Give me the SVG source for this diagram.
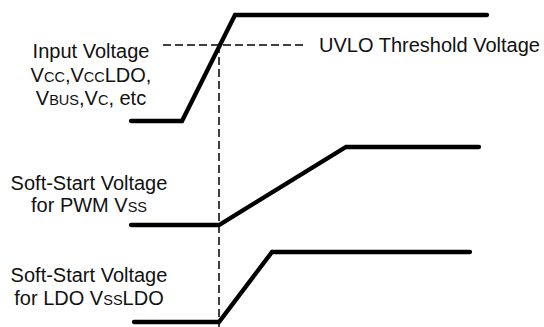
<svg xmlns="http://www.w3.org/2000/svg" width="544" height="327" viewBox="0 0 544 327">
<style>
.wave{fill:none;stroke:#000;stroke-width:4.3;stroke-linecap:round;stroke-linejoin:miter}
.dash{fill:none;stroke:#000;stroke-width:1.5;stroke-dasharray:8 4}
text{font-family:"Liberation Sans",Arial,sans-serif;font-size:20px;fill:#111;text-anchor:middle}
.sc{font-size:14.5px}
</style>
<rect width="544" height="327" fill="#fff"/>
<g id="connectors">
<path class="dash" d="M163 45H306"/>
<path class="dash" d="M219 45V327"/>
</g>
<g id="input-wave"><path class="wave" d="M131 121H182L235 15H487"/></g>
<g id="pwm-wave"><path class="wave" d="M131 225H219L346 147H479"/></g>
<g id="ldo-wave"><path class="wave" d="M134 322H219L272 252H470"/></g>
<g id="uvlo-label"><text x="319" y="52" style="text-anchor:start">UVLO Threshold Voltage</text></g>
<g id="input-label">
<text x="91" y="58">Input Voltage</text>
<text x="91" y="82">V<tspan class="sc">CC</tspan>,V<tspan class="sc">CC</tspan>LDO,</text>
<text x="91" y="105">V<tspan class="sc">BUS</tspan>,V<tspan class="sc">C</tspan>, etc</text>
</g>
<g id="pwm-label">
<text x="89" y="190">Soft-Start Voltage</text>
<text x="89" y="212">for PWM V<tspan class="sc">SS</tspan></text>
</g>
<g id="ldo-label">
<text x="89" y="282">Soft-Start Voltage</text>
<text x="89" y="305">for LDO V<tspan class="sc">SS</tspan>LDO</text>
</g>
</svg>
